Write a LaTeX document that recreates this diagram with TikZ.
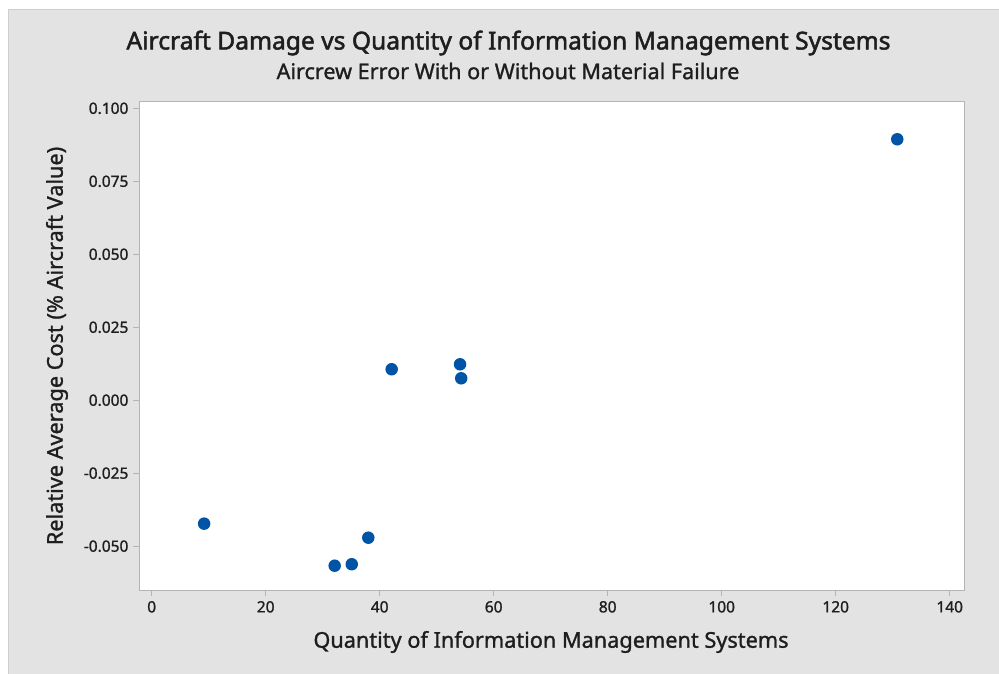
\documentclass[tikz,border=0pt]{standalone}
\usepackage{fontspec}
\setmainfont{Noto Sans}[FakeBold=1.2]
\newfontfamily\headfont{Noto Sans}[FakeBold=2]
\begin{document}
\definecolor{panelgray}{HTML}{E3E3E3}
\definecolor{panelline}{HTML}{CFCFCF}
\definecolor{axisgray}{HTML}{B4B4B4}
\definecolor{dotblue}{HTML}{0054A6}
\definecolor{ink}{HTML}{1E1E1E}
\begin{tikzpicture}[x=1pt,y=-1pt,
  ticklab/.style={font=\fontsize{15.5}{18}\selectfont, text=ink, inner sep=0pt},
  axislab/.style={font=\fontsize{21.7}{26}\selectfont, text=ink, inner sep=0pt},
  tickmark/.style={draw=axisgray, line width=1.2pt},
  datadot/.style={circle, fill=dotblue, inner sep=0pt, minimum size=12.5pt}]
  \useasboundingbox (0,0) rectangle (999,673);
  \fill[white] (0,0) rectangle (999,673);
  % chart panel
  \fill[panelgray] (8,9) rectangle (1005,680);
  \draw[panelline, line width=1pt] (8,680) -- (8,9) -- (1005,9);
  % titles
  \node[font=\headfont\fontsize{24.6}{29}\selectfont, text=ink] (title) at (508.5,43) {Aircraft Damage vs Quantity of Information Management Systems};
  \node[font=\fontsize{21.6}{26}\selectfont, text=ink] (subtitle) at (508,71) {Aircrew Error With or Without Material Failure};
  % plot area
  \node[draw=axisgray, line width=1.2pt, fill=white, minimum width=825.5pt, minimum height=489.3pt, inner sep=0pt, anchor=north west] (plot) at (138.5,100.7) {};
  % data scope: x in units, y in cost units
  \begin{scope}[shift={(151.7,400.2)}, x=5.7pt, y=2918.8pt]
    \foreach \v in {0,20,...,140}{
      \coordinate (xt\v) at (\v,-0.0650);
      \draw[tickmark] (xt\v) -- ++(0,-6pt);
      \node[ticklab, anchor=north] (xl\v) at ([yshift=-11pt]xt\v) {\v};
    }
    \foreach \i/\w in {1/0.100,2/0.075,3/0.050,4/0.025,5/0.000,6/-0.025,7/-0.050}{
      \coordinate (yt\i) at (-2.3,\w);
      \draw[tickmark] (yt\i) -- ++(-6pt,0);
      \node[ticklab, anchor=east] (yl\i) at ([xshift=-10pt]yt\i) {\w};
    }
    \node[datadot] (p1) at (9.2,-0.0423) {};
    \node[datadot] (p2) at (32.1,-0.0567) {};
    \node[datadot] (p3) at (35.1,-0.0562) {};
    \node[datadot] (p4) at (38.0,-0.0471) {};
    \node[datadot] (p5) at (42.1,0.0106) {};
    \node[datadot] (p6) at (54.1,0.0123) {};
    \node[datadot] (p7) at (54.3,0.0075) {};
    \node[datadot] (p8) at (130.8,0.0894) {};
  \end{scope}
  % axis titles
  \node[axislab] (xlabel) at (551,642) {Quantity of Information Management Systems};
  \node[axislab, rotate=90] (ylabel) at (57,346) {Relative Average Cost (\% Aircraft Value)};
\end{tikzpicture}
\end{document}
